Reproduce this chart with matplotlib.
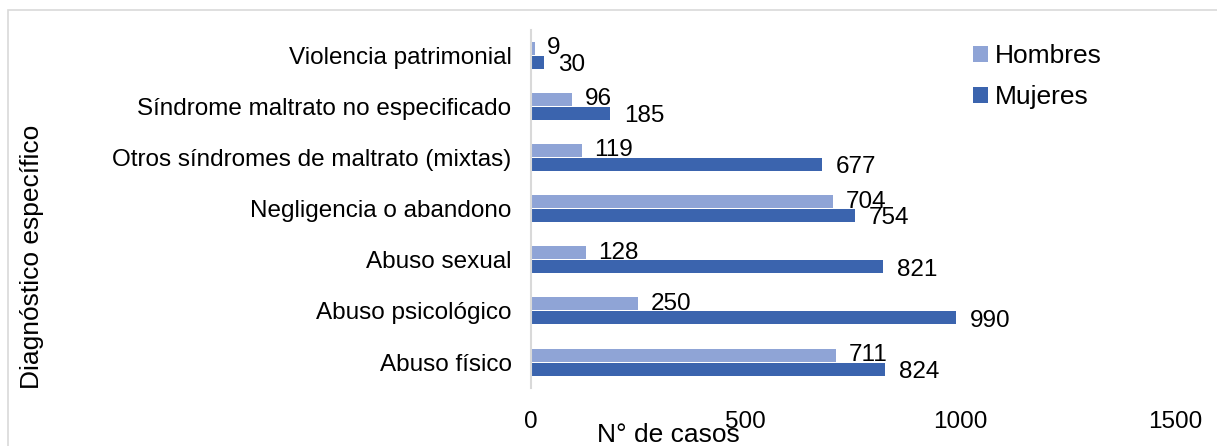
import matplotlib
matplotlib.use("Agg")
import matplotlib.pyplot as plt
from matplotlib.patches import Rectangle

plt.rcParams['font.family'] = ['Liberation Sans', 'DejaVu Sans']

categories = [
    "Abuso físico",
    "Abuso psicológico",
    "Abuso sexual",
    "Negligencia o abandono",
    "Otros síndromes de maltrato (mixtas)",
    "Síndrome maltrato no especificado",
    "Violencia patrimonial",
]
hombres = [711, 250, 128, 704, 119, 96, 9]
mujeres = [824, 990, 821, 754, 677, 185, 30]
x_ticks = [0, 500, 1000, 1500]

c_h = "#8FA4D6"
c_m = "#3B64AE"
fs = 17.5
fs_title = 19

fig = plt.figure(figsize=(12.17, 4.46), dpi=100)
W, H = 1217, 446

# light chart-area frame
fig.patches.append(Rectangle((8 / W, -0.1), 1.2, 1 - 10 / H + 0.1,
                             transform=fig.transFigure, fill=False,
                             edgecolor="#D9D9D9", linewidth=1.2))

ax = fig.add_axes([531 / W, (H - 387.6) / H, 644 / W, 358 / H])

ypos = list(range(len(categories)))
bh = 0.255
off = 0.137
ax.barh([y + off for y in ypos], hombres, height=bh, color=c_h, label="Hombres")
ax.barh([y - off for y in ypos], mujeres, height=bh, color=c_m, label="Mujeres")

for y, v in zip(ypos, hombres):
    ax.annotate(str(v), (v, y + off), xytext=(9, 0), textcoords="offset points",
                va="center", ha="left", fontsize=fs, color="black")
for y, v in zip(ypos, mujeres):
    ax.annotate(str(v), (v, y - off), xytext=(10, -2), textcoords="offset points",
                va="center", ha="left", fontsize=fs, color="black")

ax.set_xlim(0, 1500)
ax.set_ylim(-0.5, len(categories) - 0.5)
ax.set_yticks(ypos)
ax.set_yticklabels(categories, fontsize=fs)
ax.set_xticks(x_ticks)
ax.set_xticklabels([str(t) for t in x_ticks], fontsize=fs)
ax.tick_params(axis="y", length=0, pad=14)
ax.tick_params(axis="x", length=0, pad=17)

for s in ["top", "right", "bottom"]:
    ax.spines[s].set_visible(False)
ax.spines["left"].set_color("#D9D9D9")
ax.spines["left"].set_linewidth(1.5)

fig.text(668 / W, 1 - 435 / H, "N° de casos", ha="center", va="center", fontsize=fs_title)
fig.text(32 / W, 1 - 257 / H, "Diagnóstico específico", ha="center", va="center",
         rotation=90, fontsize=fs_title)

leg = ax.legend(loc="upper left", bbox_to_anchor=(973 / W, 1 - 44 / H),
                bbox_transform=fig.transFigure, frameon=False, fontsize=fs_title,
                handlelength=0.57, handleheight=0.57, handletextpad=0.27,
                labelspacing=0.66, borderaxespad=0, borderpad=0)

fig.savefig("out.png", dpi=100)
